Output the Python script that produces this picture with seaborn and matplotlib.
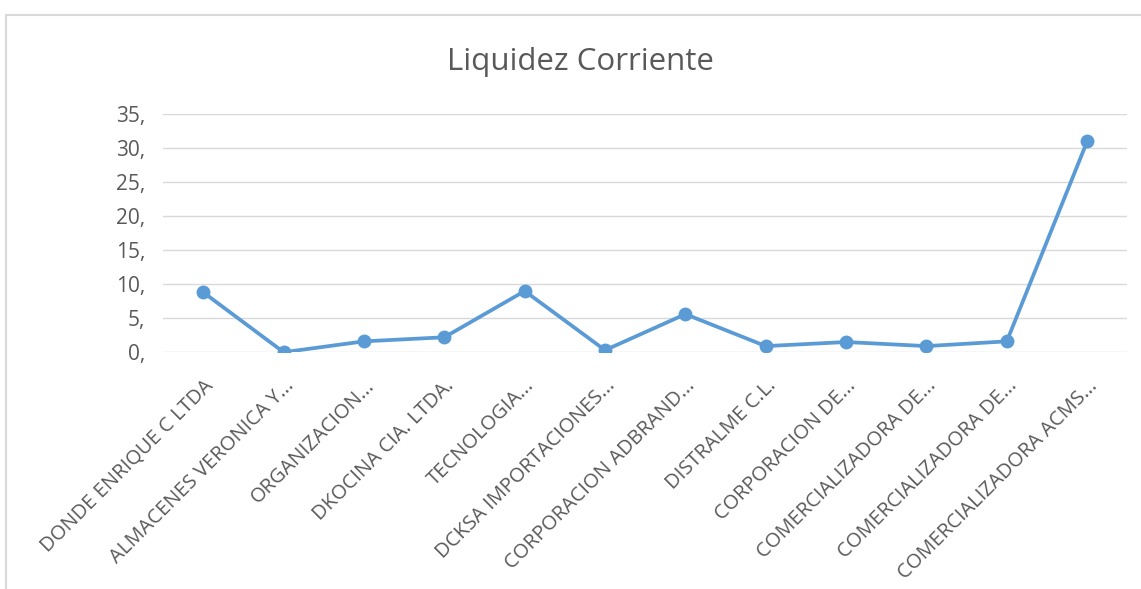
import matplotlib
matplotlib.use('Agg')
import matplotlib.pyplot as plt
import numpy as np
import pandas as pd
import seaborn as sns

# Data
empresas = ['DONDE ENRIQUE C LTDA', 'ALMACENES VERONICA Y...', 'ORGANIZACION...',
            'DKOCINA CIA. LTDA.', 'TECNOLOGIA...', 'DCKSA IMPORTACIONES...',
            'CORPORACION ADBRAND...', 'DISTRALME C.L.', 'CORPORACION DE...',
            'COMERCIALIZADORA DE...', 'COMERCIALIZADORA DE...', 'COMERCIALIZADORA ACMS...']
liquidez = [8.8, 0.0, 1.6, 2.2, 9.0, 0.3, 5.6, 0.9, 1.5, 0.9, 1.6, 31.0]
y_ticks = [0, 5, 10, 15, 20, 25, 30, 35]

df = pd.DataFrame({'pos': np.arange(len(empresas)), 'valor': liquidez})

sns.set_style('white')
plt.rcParams['font.family'] = ['Open Sans', 'DejaVu Sans']

fig = plt.figure(figsize=(11.41, 5.89), dpi=100)
ax = fig.add_axes([0.143, 0.402, 0.845, 0.404])

# chart border like the Excel frame
fig.patches.append(plt.Rectangle((0.005, -0.01), 1.0, 0.985, transform=fig.transFigure,
                                 fill=False, edgecolor='#D9D9D9', linewidth=1.5))

for t in y_ticks:
    ax.axhline(t, color='#D9D9D9', linewidth=1, zorder=0)

sns.lineplot(data=df, x='pos', y='valor', ax=ax, color='#5B9BD5', linewidth=2.7,
             marker='o', markersize=10, markeredgewidth=0, zorder=3)

ax.set_xlim(-0.5, len(empresas) - 0.5)
ax.set_ylim(0, 35)
ax.set_yticks(y_ticks)
ax.set_yticklabels([f'{t},' for t in y_ticks], fontsize=15, color='#595959')
ax.set_xticks(df['pos'])
ax.set_xticklabels(empresas, rotation=45, ha='right', rotation_mode='anchor',
                   fontsize=14.5, color='#595959')
ax.tick_params(axis='y', length=0, pad=13)
ax.tick_params(axis='x', length=0, pad=17)
ax.set_xlabel('')
ax.set_ylabel('')
for s in ax.spines.values():
    s.set_visible(False)

fig.text(0.509, 0.895, 'Liquidez Corriente', ha='center', va='center',
         fontsize=22.5, color='#595959')

fig.savefig('out.png', dpi=100)
